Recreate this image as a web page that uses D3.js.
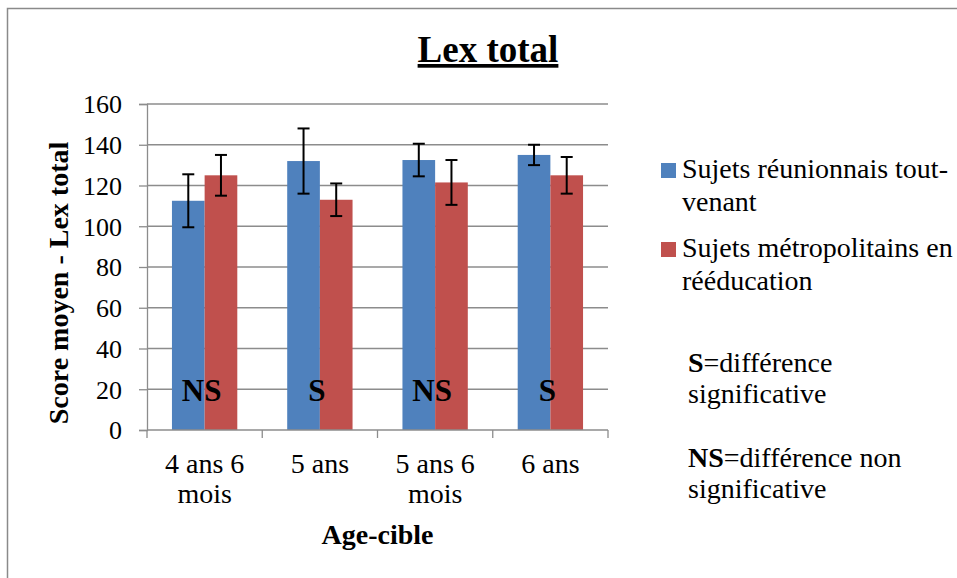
<!DOCTYPE html>
<html><head><meta charset="utf-8">
<script src="https://cdn.jsdelivr.net/npm/d3@7"></script>
<style>
html,body{margin:0;padding:0;background:#fff;}
svg text{font-family:"Liberation Serif","Times New Roman",Times,serif;fill:#000;}
</style></head>
<body>
<svg id="chart" width="957" height="578"></svg>
<script>
const categories = [["4 ans 6","mois"],["5 ans"],["5 ans 6","mois"],["6 ans"]];
const seriesNames = ["Sujets réunionnais tout-venant","Sujets métropolitains en rééducation"];
const reunionMeans = [112.5, 132, 132.5, 135];
const reunionErr = [13, 16, 8, 5];
const metroMeans = [125, 113, 121.5, 125];
const metroErr = [10, 8, 11, 9];
const sigLabels = ["NS","S","NS","S"];
const yTicks = [0,20,40,60,80,100,120,140,160];
const colors = ["#4F81BD","#C0504D"];

const FONT = "'Liberation Serif','Times New Roman',Times,serif";
const svg = d3.select("#chart");
const L = 147, R = 608, T = 104, B = 430;

// outer border (top and left visible)
svg.append("path").attr("d","M7.5,580 L7.5,8.5 L960,8.5")
  .attr("fill","none").attr("stroke","#8a8a8a").attr("stroke-width",1.5);

const catIdx = categories.map((c,i)=>i);
const x0 = d3.scaleBand().domain(catIdx).range([L,R]).paddingInner(0.433).paddingOuter(0.2165);
const x1 = d3.scaleBand().domain([0,1]).range([0,x0.bandwidth()]).padding(0);
const y = d3.scaleLinear().domain([0,160]).range([B,T]);

// gridlines
svg.append("g").selectAll("line").data(yTicks.filter(d=>d>0)).join("line")
  .attr("x1",L).attr("x2",R).attr("y1",d=>y(d)).attr("y2",d=>y(d))
  .attr("stroke","#8c8c8c").attr("stroke-width",1.3);

// y axis
const yAxis = svg.append("g").attr("transform",`translate(${L},0)`)
  .call(d3.axisLeft(y).tickValues(yTicks).tickSize(8).tickPadding(17));
yAxis.attr("font-family",FONT);
yAxis.select(".domain").attr("stroke","#8c8c8c").attr("stroke-width",1.3);
yAxis.selectAll(".tick line").attr("stroke","#8c8c8c").attr("stroke-width",1.3);
yAxis.selectAll(".tick text").attr("font-size",26).attr("fill","#000").attr("dy","0.34em");

// bars
const data = catIdx.map(i=>({i, vals:[
  {s:0,v:reunionMeans[i],e:reunionErr[i]},
  {s:1,v:metroMeans[i],e:metroErr[i]}]}));
const g = svg.append("g").selectAll("g").data(data).join("g")
  .attr("transform",d=>`translate(${x0(d.i)},0)`);
g.selectAll("rect").data(d=>d.vals).join("rect")
  .attr("x",d=>x1(d.s)).attr("width",x1.bandwidth())
  .attr("y",d=>y(d.v)).attr("height",d=>y(0)-y(d.v))
  .attr("fill",d=>colors[d.s]);

// x axis
const xTickPos = d3.range(categories.length+1).map(i=>L + i*(R-L)/categories.length);
svg.append("line").attr("x1",L).attr("x2",R).attr("y1",B).attr("y2",B)
  .attr("stroke","#8c8c8c").attr("stroke-width",1.3);
svg.append("g").selectAll("line").data(xTickPos).join("line")
  .attr("x1",d=>d).attr("x2",d=>d).attr("y1",B).attr("y2",B+8)
  .attr("stroke","#8c8c8c").attr("stroke-width",1.3);

// error bars
const eb = g.selectAll("g.err").data(d=>d.vals).join("g").attr("class","err")
  .attr("transform",d=>`translate(${x1(d.s)+x1.bandwidth()/2},0)`);
eb.append("line").attr("y1",d=>y(d.v+d.e)).attr("y2",d=>y(d.v-d.e))
  .attr("stroke","#000").attr("stroke-width",2);
eb.append("line").attr("x1",-6).attr("x2",6).attr("y1",d=>y(d.v+d.e)).attr("y2",d=>y(d.v+d.e))
  .attr("stroke","#000").attr("stroke-width",2);
eb.append("line").attr("x1",-6).attr("x2",6).attr("y1",d=>y(d.v-d.e)).attr("y2",d=>y(d.v-d.e))
  .attr("stroke","#000").attr("stroke-width",2);

// significance labels
svg.append("g").selectAll("text").data(catIdx).join("text")
  .attr("x",i=>x0(i)+x0.bandwidth()/2 - 3).attr("y",y(14))
  .attr("text-anchor","middle").attr("font-weight","bold").attr("font-size",31)
  .text(i=>sigLabels[i]);

// category labels
const cl = svg.append("g").selectAll("text").data(catIdx).join("text")
  .attr("text-anchor","middle").attr("font-size",28)
  .attr("x",i=>x0(i)+x0.bandwidth()/2).attr("y",473);
cl.selectAll("tspan").data(i=>categories[i]).join("tspan")
  .attr("x",function(){return d3.select(this.parentNode).attr("x");})
  .attr("dy",(d,j)=>j===0?0:30).text(d=>d);

// axis titles
svg.append("text").attr("x",(L+R)/2).attr("y",544).attr("text-anchor","middle")
  .attr("font-weight","bold").attr("font-size",28).text("Age-cible");
svg.append("text").attr("transform","translate(68,283) rotate(-90)").attr("text-anchor","middle")
  .attr("font-weight","bold").attr("font-size",28).text("Score moyen - Lex total");

// title
svg.append("text").attr("x",488).attr("y",62).attr("text-anchor","middle")
  .attr("font-weight","bold").attr("font-size",37).attr("text-decoration","underline").text("Lex total");

// legend
const legLines = [["Sujets réunionnais tout-","venant"],["Sujets métropolitains en","rééducation"]];
const legY = [178, 257];
legLines.forEach((lines,k)=>{
  svg.append("rect").attr("x",661).attr("y",legY[k]-15).attr("width",15).attr("height",15).attr("fill",colors[k]);
  const t = svg.append("text").attr("x",682).attr("y",legY[k]).attr("font-size",28);
  lines.forEach((ln,j)=>t.append("tspan").attr("x",682).attr("dy",j===0?0:33).text(ln));
});

// notes
const notes = [{b:"S", r:"=différence", l2:"significative", yy:372},
               {b:"NS", r:"=différence non", l2:"significative", yy:467}];
notes.forEach(n=>{
  const t = svg.append("text").attr("x",688).attr("y",n.yy).attr("font-size",28);
  t.append("tspan").attr("font-weight","bold").text(n.b);
  t.append("tspan").text(n.r);
  t.append("tspan").attr("x",688).attr("dy",31).text(n.l2);
});
</script>
</body></html>
